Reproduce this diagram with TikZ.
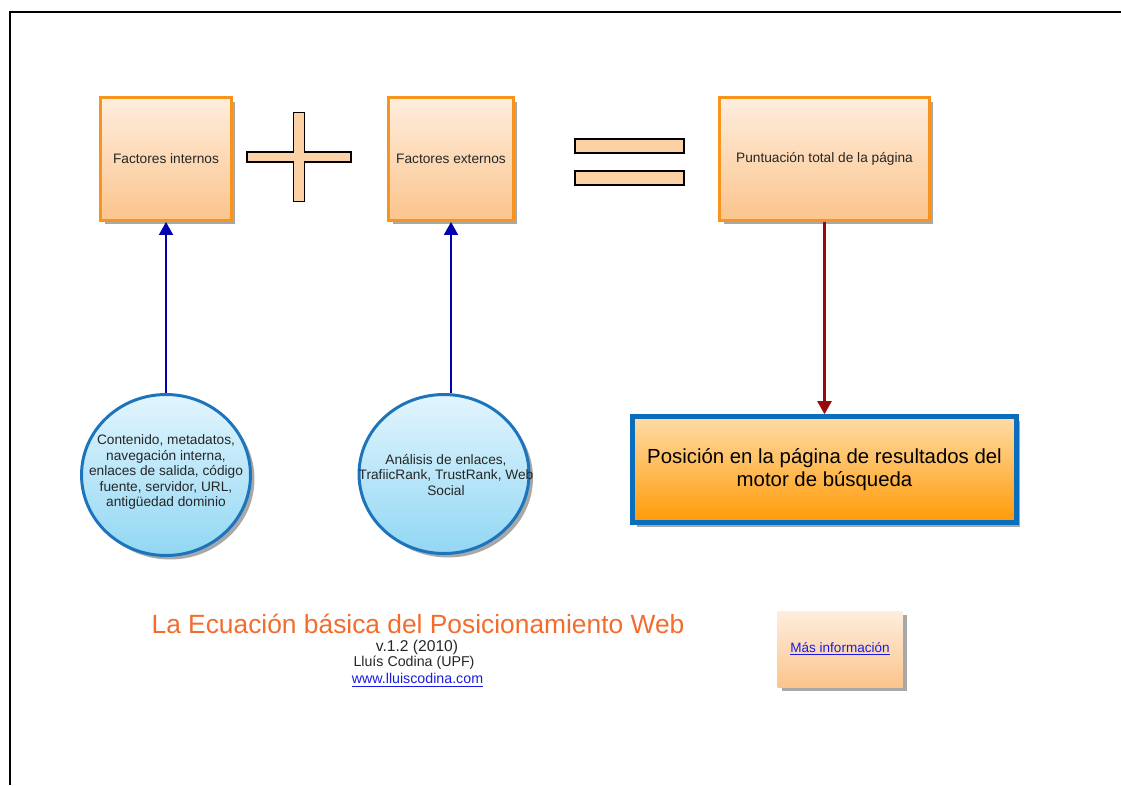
\documentclass[tikz,border=0pt]{standalone}
\usepackage{fontspec}
\setmainfont{Liberation Sans}
\usepackage{tikz}
\usetikzlibrary{arrows.meta,positioning,shadows,shapes.geometric}
\definecolor{boxorange}{HTML}{F7941E}
\definecolor{peachtop}{HTML}{FEEEDE}
\definecolor{peachbot}{HTML}{FBC48C}
\definecolor{bubbleline}{HTML}{1C75BC}
\definecolor{bubbletop}{HTML}{E2F5FD}
\definecolor{bubblebot}{HTML}{92D7F4}
\definecolor{resulttop}{HTML}{FFDCA8}
\definecolor{resultbot}{HTML}{FF9A05}
\definecolor{resultline}{HTML}{0A6EBD}
\definecolor{arrowblue}{HTML}{0000B0}
\definecolor{arrowred}{HTML}{9B0A0A}
\definecolor{titleorange}{HTML}{F26C2C}
\definecolor{linkblue}{HTML}{1A1AE6}
\definecolor{shadowgray}{HTML}{A8A8A8}
\tikzset{%
	shadowed/.style = {general shadow={fill=shadowgray, shadow xshift=0.08cm, shadow yshift=-0.08cm}},
	factor/.style   = {draw=boxorange, line width=1.7pt, rectangle, top color=peachtop, bottom color=peachbot, shadowed, minimum height=2.46cm, text=black!85, font=\fontsize{7.8}{9}\selectfont}, % Factor box
	bubble/.style   = {draw=bubbleline, line width=1.7pt, ellipse, top color=bubbletop, bottom color=bubblebot, shadowed, inner sep=0pt}, % Factor list
	bubbletext/.style = {align=center, text=black!85, font=\fontsize{7.8}{8.8}\selectfont},
	result/.style   = {draw=resultline, line width=2.6pt, rectangle, top color=resulttop, bottom color=resultbot, shadowed, minimum width=7.68cm, minimum height=2.12cm, align=center, font=\fontsize{11.6}{13}\selectfont}, % Result
	signbar/.style  = {draw=black, line width=1.1pt, fill=peachbot!70!peachtop}, % Plus and equals
	upfeed/.style   = {draw=arrowblue, line width=1.1pt, -{Triangle[width=0.28cm,length=0.26cm]}},
	downfeed/.style = {draw=arrowred, line width=1.2pt, -{Triangle[width=0.28cm,length=0.26cm]}},
	caption/.style  = {inner sep=0pt, font=\fontsize{8.3}{9}\selectfont, text=black!85},
}
\begin{document}
\begin{tikzpicture}[x=0.02cm, y=-0.02cm]
	\useasboundingbox (0,0) rectangle (1121,785);
	\draw[line width=0.7pt] (1121,12) -- (10,12) -- (10,785);

	\node[factor, minimum width=2.62cm] (fint) at (166,159) {Factores internos};
	\node[factor, minimum width=2.5cm] (fext) at (451,159) {Factores externos};
	\node[factor, minimum width=4.2cm] (total) at (824.5,159) {Puntuaci\'on total de la p\'agina};

	% plus sign
	\draw[signbar, shift={(299,157)}] (-5.5,-44.5) -- (5.5,-44.5) -- (5.5,-5) -- (52,-5) -- (52,5) -- (5.5,5) -- (5.5,44.5) -- (-5.5,44.5) -- (-5.5,5) -- (-52,5) -- (-52,-5) -- (-5.5,-5) -- cycle;
	% equals sign
	\node[signbar, minimum width=2.18cm, minimum height=0.28cm] (eq1) at (629.5,146) {};
	\node[signbar, minimum width=2.18cm, minimum height=0.28cm, below=0.32cm of eq1] (eq2) {};

	\node[bubble, minimum width=3.38cm, minimum height=3.22cm] (cint) at (166,475) {};
	\node[bubbletext] (cinttext) at (166,472) {Contenido, metadatos,\\ navegaci\'on interna,\\ enlaces de salida, c\'odigo\\ fuente, servidor, URL,\\ antig\"uedad dominio};
	\node[bubble, minimum width=3.4cm, minimum height=3.18cm] (cext) at (444,474) {};
	\node[bubbletext] (cexttext) at (446,475) {An\'alisis de enlaces,\\ TrafiicRank, TrustRank, Web\\ Social};
	\node[result] (pos) at (824.5,469.5) {Posici\'on en la p\'agina de resultados del\\ motor de b\'usqueda};

	\draw[upfeed] (fint.south |- cint.north) -- (fint.south);
	\draw[upfeed] (fext.south |- cext.north) -- (fext.south);
	\draw[downfeed] (total.south) -- (pos.north);

	\node[inner sep=0pt, text=titleorange, font=\fontsize{15}{17}\selectfont] (title) at (418,624) {La Ecuaci\'on b\'asica del Posicionamiento Web};
	\node[caption, font=\fontsize{8.9}{10}\selectfont] (version) at (417,647) {v.1.2 (2010)};
	\node[caption, font=\fontsize{8.1}{9}\selectfont] (author) at (414,663) {Llu\'is Codina (UPF)};
	\node[caption, text=linkblue, font=\fontsize{8.1}{9}\selectfont] (web) at (417.5,680) {\underline{www.lluiscodina.com}};

	\node[rectangle, top color=peachtop, bottom color=peachbot, shadowed, minimum width=2.5cm, minimum height=1.52cm, text=linkblue, font=\fontsize{7.7}{9}\selectfont] (info) at (840,649) {\underline{M\'as informaci\'on}};
\end{tikzpicture}
\end{document}
